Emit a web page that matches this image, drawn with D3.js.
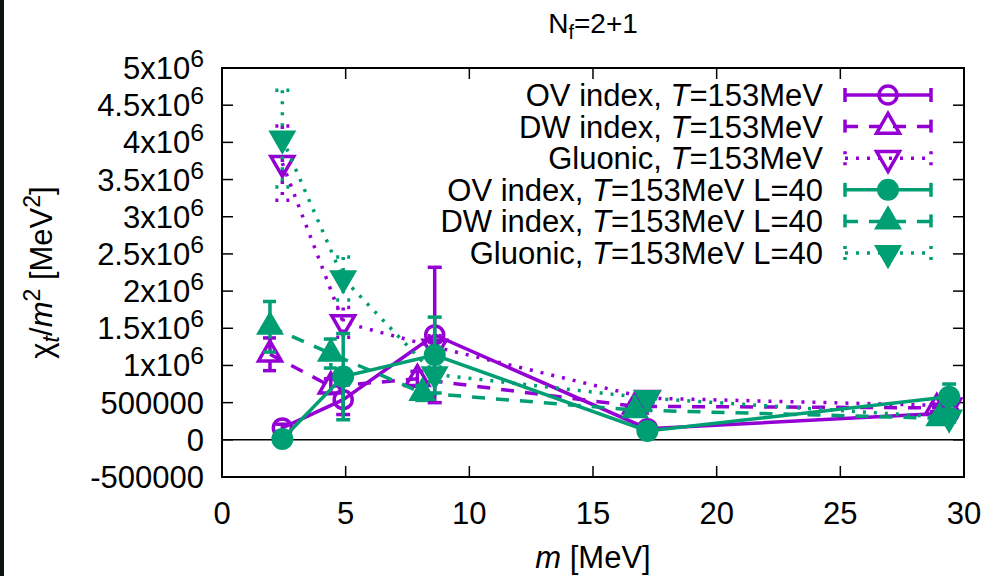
<!DOCTYPE html>
<html>
<head>
<meta charset="utf-8">
<script src="https://cdn.jsdelivr.net/npm/d3@7"></script>
<style>
  html, body { margin: 0; padding: 0; background: #fff; }
  svg { display: block; font-family: "Liberation Sans", Arial, Helvetica, sans-serif; }
</style>
</head>
<body>
<svg id="chart"></svg>
<script>
// masses (MeV) for each data set
const mMain = [2.44, 4.9, 8.6, 17.2, 29.4];
const mDW = [1.94, 4.4, 7.9, 16.7, 28.9];
const mDW40 = [1.94, 4.4, 8.1, 16.7, 29.0];

// chi_t / m^2 values and errors
const ovVal = [160000, 540000, 1410000, 150000, 360000];
const ovErr = [50000, 200000, 910000, 50000, 100000];
const dwVal = [1150000, 720000, 820000, 450000, 430000];
const dwErr = [220000, 100000, 100000, 50000, 50000];
const glVal = [3720000, 1580000, 1250000, 560000, 460000];
const glErr = [500000, 200000, 150000, 60000, 60000];
const ov40Val = [10000, 850000, 1140000, 120000, 580000];
const ov40Err = [30000, 580000, 510000, 50000, 170000];
const dw40Val = [1520000, 1160000, 630000, 400000, 290000];
const dw40Err = [340000, 195000, 100000, 50000, 50000];
const gl40Val = [4050000, 2170000, 880000, 560000, 300000];
const gl40Err = [650000, 290000, 100000, 60000, 60000];

const xTicks = [0, 5, 10, 15, 20, 25, 30];
const yTicks = [-500000, 0, 500000, 1e6, 1.5e6, 2e6, 2.5e6, 3e6, 3.5e6, 4e6, 4.5e6, 5e6];

const purple = "#9400d3", green = "#009e73";
const series = [
  { label: "OV index, ", tail: "", m: mMain, v: ovVal, e: ovErr, color: purple, dash: null, mark: "circle", fill: false },
  { label: "DW index, ", tail: "", m: mDW, v: dwVal, e: dwErr, color: purple, dash: "13,11", mark: "up", fill: false },
  { label: "Gluonic, ", tail: "", m: mMain, v: glVal, e: glErr, color: purple, dash: "3,8", mark: "down", fill: false },
  { label: "OV index, ", tail: " L=40", m: mMain, v: ov40Val, e: ov40Err, color: green, dash: null, mark: "circle", fill: true },
  { label: "DW index, ", tail: " L=40", m: mDW40, v: dw40Val, e: dw40Err, color: green, dash: "13,11", mark: "up", fill: true },
  { label: "Gluonic, ", tail: " L=40", m: mMain, v: gl40Val, e: gl40Err, color: green, dash: "3,8", mark: "down", fill: true }
];

const width = 987, height = 576;
const pLeft = 222, pRight = 964, pTop = 68, pBottom = 477;

const svg = d3.select("#chart").attr("width", width).attr("height", height);
svg.append("rect").attr("width", width).attr("height", height).attr("fill", "#fff");
// dark strip at the left edge of the screenshot
svg.append("rect").attr("width", 4).attr("height", height).attr("fill", "#0b1212");

const x = d3.scaleLinear().domain([0, 30]).range([pLeft, pRight]);
const y = d3.scaleLinear().domain([-500000, 5e6]).range([pBottom, pTop]);

const fs = 31;
const lw = 3.5;

// zero line
svg.append("line")
  .attr("x1", pLeft).attr("x2", pRight)
  .attr("y1", y(0)).attr("y2", y(0))
  .attr("stroke", "#000").attr("stroke-width", 1.5);

// ticks (inside, mirrored)
const tl = 11;
xTicks.forEach(t => {
  svg.append("line").attr("x1", x(t)).attr("x2", x(t)).attr("y1", pBottom).attr("y2", pBottom - tl).attr("stroke", "#000").attr("stroke-width", 1.5);
  svg.append("line").attr("x1", x(t)).attr("x2", x(t)).attr("y1", pTop).attr("y2", pTop + tl).attr("stroke", "#000").attr("stroke-width", 1.5);
  svg.append("text").attr("x", x(t)).attr("y", pBottom + 47).attr("text-anchor", "middle")
    .attr("font-size", fs).text(t);
});
yTicks.forEach(t => {
  svg.append("line").attr("x1", pLeft).attr("x2", pLeft + tl).attr("y1", y(t)).attr("y2", y(t)).attr("stroke", "#000").attr("stroke-width", 1.5);
  svg.append("line").attr("x1", pRight).attr("x2", pRight - tl).attr("y1", y(t)).attr("y2", y(t)).attr("stroke", "#000").attr("stroke-width", 1.5);
  const txt = svg.append("text").attr("x", 204).attr("y", y(t) + 11).attr("text-anchor", "end").attr("font-size", fs);
  if (Math.abs(t) < 1e6) {
    txt.text(t);
  } else {
    txt.append("tspan").text((t / 1e6) + "x10");
    txt.append("tspan").attr("font-size", fs * 0.8).attr("dy", -12).text("6");
  }
});

// data
const sym = (kind, r) => {
  if (kind === "circle") return d3.symbol(d3.symbolCircle, Math.PI * r * r)();
  return d3.symbol(d3.symbolTriangle, r * r * 2.8)();
};
const line = d3.line();

function drawMarker(g, s, cx, cy, r) {
  g.append("path")
    .attr("d", sym(s.mark, r))
    .attr("transform", `translate(${cx},${cy})` + (s.mark === "down" ? " rotate(180)" : ""))
    .attr("fill", s.fill ? s.color : "none")
    .attr("stroke", s.color).attr("stroke-width", s.fill ? 0 : lw);
}

series.forEach(s => {
  const g = svg.append("g");
  const pts = s.m.map((m, i) => [x(m), y(s.v[i])]);
  g.append("path").attr("d", line(pts)).attr("fill", "none")
    .attr("stroke", s.color).attr("stroke-width", lw)
    .attr("stroke-dasharray", s.dash);
  s.m.forEach((m, i) => {
    const cx = x(m), y1 = y(s.v[i] + s.e[i]), y2 = y(s.v[i] - s.e[i]);
    g.append("line").attr("x1", cx).attr("x2", cx).attr("y1", y1).attr("y2", y2)
      .attr("stroke", s.color).attr("stroke-width", lw).attr("stroke-dasharray", s.dash);
    [y1, y2].forEach(yy => g.append("line").attr("x1", cx - 7).attr("x2", cx + 7).attr("y1", yy).attr("y2", yy)
      .attr("stroke", s.color).attr("stroke-width", lw).attr("stroke-dasharray", s.dash));
  });
  s.m.forEach((m, i) => drawMarker(g, s, x(m), y(s.v[i]), s.fill ? 11 : 9));
});

// legend
const legTop = 95, legStep = 31.6;
series.forEach((s, i) => {
  const cy = legTop + i * legStep;
  const t = svg.append("text").attr("x", 823).attr("y", cy + 11).attr("text-anchor", "end").attr("font-size", fs);
  t.append("tspan").text(s.label);
  t.append("tspan").attr("font-style", "italic").text("T");
  t.append("tspan").text("=153MeV" + s.tail);
  const g = svg.append("g");
  g.append("line").attr("x1", 845).attr("x2", 931).attr("y1", cy).attr("y2", cy)
    .attr("stroke", s.color).attr("stroke-width", lw).attr("stroke-dasharray", s.dash);
  [845, 931].forEach(xx => g.append("line").attr("x1", xx).attr("x2", xx).attr("y1", cy - 7).attr("y2", cy + 7)
    .attr("stroke", s.color).attr("stroke-width", lw).attr("stroke-dasharray", s.dash));
  drawMarker(g, s, 888, cy, s.fill ? 11 : 9);
});

// frame
svg.append("rect").attr("x", pLeft).attr("y", pTop).attr("width", pRight - pLeft).attr("height", pBottom - pTop)
  .attr("fill", "none").attr("stroke", "#000").attr("stroke-width", 2);

// title
const title = svg.append("text").attr("x", (pLeft + pRight) / 2).attr("y", 33).attr("text-anchor", "middle").attr("font-size", 28);
title.append("tspan").text("N");
title.append("tspan").attr("font-size", 20).attr("dy", 6).text("f");
title.append("tspan").attr("dy", -6).text("=2+1");

// x label
const xl = svg.append("text").attr("x", (pLeft + pRight) / 2).attr("y", 568).attr("text-anchor", "middle").attr("font-size", fs);
xl.append("tspan").attr("font-style", "italic").text("m");
xl.append("tspan").text(" [MeV]");

// y label
const yl = svg.append("text").attr("transform", `translate(52,${(pTop + pBottom) / 2}) rotate(-90)`)
  .attr("text-anchor", "middle").attr("font-size", fs);
yl.append("tspan").text("\u03c7");
yl.append("tspan").attr("font-style", "italic").attr("font-size", 23).attr("dy", 7).text("t");
yl.append("tspan").attr("dy", -7).text("/");
yl.append("tspan").attr("font-style", "italic").text("m");
yl.append("tspan").attr("font-size", 23).attr("dy", -12).text("2");
yl.append("tspan").attr("dy", 12).text(" [MeV");
yl.append("tspan").attr("font-size", 23).attr("dy", -12).text("2");
yl.append("tspan").attr("dy", 12).text("]");
</script>
</body>
</html>
